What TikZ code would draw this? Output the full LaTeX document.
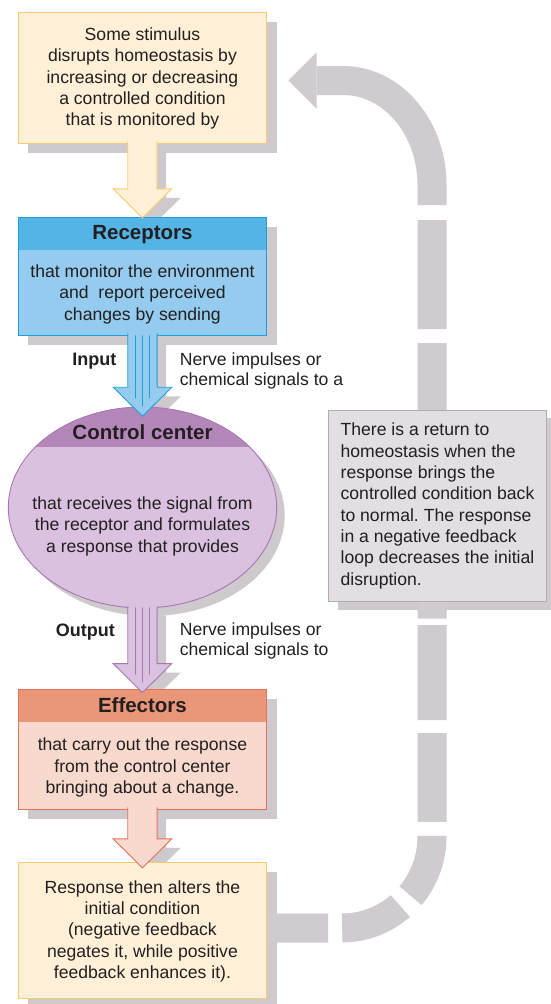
\documentclass[tikz,border=0pt]{standalone}
\usepackage{fontspec}
\setmainfont{Liberation Sans}
\usetikzlibrary{shapes.geometric,arrows.meta,positioning,calc}

\definecolor{ink}{RGB}{35,31,32}
\definecolor{shadowgray}{RGB}{206,201,205}
\definecolor{loopgray}{RGB}{208,203,207}
\definecolor{notefill}{RGB}{226,222,226}
\definecolor{noteline}{RGB}{178,172,178}
\definecolor{stimfill}{RGB}{255,240,215}
\definecolor{stimline}{RGB}{252,202,110}
\definecolor{recline}{RGB}{27,160,220}
\definecolor{rechead}{RGB}{84,180,229}
\definecolor{recfill}{RGB}{148,203,238}
\definecolor{ctrline}{RGB}{168,119,177}
\definecolor{ctrhead}{RGB}{180,135,187}
\definecolor{ctrfill}{RGB}{217,193,223}
\definecolor{effline}{RGB}{228,115,90}
\definecolor{effhead}{RGB}{234,150,121}
\definecolor{efffill}{RGB}{248,217,205}

\pgfdeclarelayer{background}
\pgfsetlayers{background,main}

% outline of a block arrow from one stage down to the next
\newcommand{\arrowpts}[3]{($(#1)+(-14.7,-2)$) -- ($(#2)+(-14.7,#3-29)$) -- ($(#2)+(-29.3,#3-29)$) -- ($(#2)+(0,#3)$) -- ($(#2)+(29.3,#3-29)$) -- ($(#2)+(14.7,#3-29)$) -- ($(#1)+(14.7,-2)$)}

\begin{document}
\begin{tikzpicture}[x=1pt,y=-1pt,
    every node/.style={text=ink},
    bodytext/.style={font=\fontsize{17.6}{21.3}\selectfont, align=center, inner sep=0pt},
    hdtext/.style={font=\fontsize{20.5}{24}\selectfont\bfseries, inner sep=0pt},
    flowtag/.style={font=\fontsize{18}{21}\selectfont\bfseries, inner sep=0pt},
    sidetext/.style={font=\fontsize{17.6}{20.5}\selectfont, align=left, inner sep=0pt},
    card/.style 2 args={draw=#1, fill=#2, line width=0.9pt, minimum width=248.5pt, inner sep=0pt},
    banded/.style 2 args={path picture={\fill[#1] (path picture bounding box.north west)
      rectangle ([yshift=-#2]path picture bounding box.north east);}},
    flowline/.style={line width=0.9pt, line join=miter},
  ]
    \useasboundingbox (0,0) rectangle (550,1004);

    % stages
    \node[card={stimline}{stimfill}, minimum height=130.7pt] (stim) at (142.45,77.65) {};
    \node[card={recline}{recfill}, banded={rechead}{32.7pt}, minimum height=117.7pt] (rec) at (142.45,276.15) {};
    \node[ellipse, draw=ctrline, fill=ctrfill, line width=0.9pt, banded={ctrhead}{39.7pt},
          minimum width=268.4pt, minimum height=201pt, inner sep=0pt] (ctr) at (142.5,507.5) {};
    \node[card={effline}{efffill}, banded={effhead}{32.4pt}, minimum height=119.7pt] (eff) at (142.45,749.15) {};
    \node[card={stimline}{stimfill}, minimum height=136pt] (resp) at (142.45,930.3) {};
    \node[draw=noteline, fill=notefill, line width=0.9pt, minimum width=218.4pt, minimum height=191.7pt,
          inner sep=0pt, align=left, font=\fontsize{17.6}{21.3}\selectfont\frenchspacing] (note) at (437.5,505.9)
      {There is a return to\\homeostasis when the\\response brings the\\controlled condition back\\to normal. The response\\in a negative feedback\\loop decreases the initial\\disruption.};
    \coordinate (looptip) at (288.3,80.5);

    % shadows and the feedback loop
    \begin{pgfonlayer}{background}
      \foreach \n in {stim,rec,eff,resp}
        \fill[shadowgray] ([xshift=10pt,yshift=-10pt]\n.north west) rectangle ([xshift=10pt,yshift=-10pt]\n.south east);
      \fill[shadowgray] ([xshift=8pt,yshift=-8pt]ctr.center) ellipse (134.2pt and 100.5pt);
      \fill[shadowgray] ([xshift=10pt,yshift=-8pt]note.north west) rectangle ([xshift=10pt,yshift=-8pt]note.south east);
      \fill[shadowgray, transform canvas={xshift=9pt,yshift=-9pt}] \arrowpts{stim.south}{rec.north}{1} -- cycle;
      \fill[shadowgray, transform canvas={xshift=9pt,yshift=-9pt}] \arrowpts{rec.south}{ctr.north}{9.7} -- cycle;
      \fill[shadowgray, transform canvas={xshift=9pt,yshift=-9pt}] \arrowpts{ctr.south}{eff.north}{3.7} -- cycle;
      \fill[shadowgray, transform canvas={xshift=9pt,yshift=-9pt}] \arrowpts{eff.south}{resp.north}{6} -- cycle;

      \draw[loopgray, line width=29pt,
            dash pattern=on 61pt off 14pt on 63.5pt off 14.6pt on 64.8pt off 14pt on 88.7pt off 13pt
              on 95pt off 6.7pt on 275.3pt off 14pt on 109pt off 15pt on 2000pt off 1pt,
            -{Triangle[width=56.7pt,length=28.4pt,line width=0pt]}]
        ([yshift=2.3pt]resp.east) -- (341.7,928)
        .. controls (392.1,928) and (432,886.3) .. (432,836.7)
        -- (432,185)
        .. controls (432,127.3) and (392.2,80.5) .. (343,80.5)
        -- (looptip);
    \end{pgfonlayer}

    % block arrows between the stages
    \fill[stimfill] \arrowpts{stim.south}{rec.north}{1} -- cycle;
    \draw[stimline, flowline] \arrowpts{stim.south}{rec.north}{1};
    \fill[recfill] \arrowpts{rec.south}{ctr.north}{9.7} -- cycle;
    \draw[recline, flowline] \arrowpts{rec.south}{ctr.north}{9.7};
    \foreach \dx/\dy in {-7/11,0/19,7/11}
      \draw[recline, line width=0.9pt] ($(rec.south)+(\dx,0)$) -- ($(ctr.north)+(\dx,9.7-29+\dy)$);
    \fill[ctrfill] \arrowpts{ctr.south}{eff.north}{3.7} -- cycle;
    \draw[ctrline, flowline] \arrowpts{ctr.south}{eff.north}{3.7};
    \foreach \dx/\dy in {-7/11,0/19,7/11}
      \draw[ctrline, line width=0.9pt] ($(ctr.south)+(\dx,-1)$) -- ($(eff.north)+(\dx,3.7-29+\dy)$);
    \fill[efffill] \arrowpts{eff.south}{resp.north}{6} -- cycle;
    \draw[effline, flowline] \arrowpts{eff.south}{resp.north}{6};

    % texts
    \node[bodytext] (stimtxt) at (142.45,78.5) {Some stimulus\\disrupts homeostasis by\\increasing or decreasing\\a controlled condition\\that is monitored by};
    \node[hdtext] (rechd) at (142.45,234.8) {Receptors};
    \node[bodytext] (rectxt) at (142.45,294.2) {that monitor the environment\\and\ \ report perceived\\changes by sending};
    \node[flowtag, anchor=base east] (inlbl) at (116.5,365.7) {Input};
    \node[sidetext, anchor=west] (insig) at (179.6,371) {Nerve impulses or\\chemical signals to a};
    \node[hdtext] (ctrhd) at (142.5,431.8) {Control center};
    \node[bodytext] (ctrtxt) at (142.5,526.2) {that receives the signal from\\the receptor and formulates\\a response that provides};
    \node[flowtag, anchor=base east] (outlbl) at (115,636) {Output};
    \node[sidetext, anchor=west] (outsig) at (179.6,640.9) {Nerve impulses or\\chemical signals to};
    \node[hdtext] (effhd) at (142.45,705.2) {Effectors};
    \node[bodytext] (efftxt) at (142.45,767.5) {that carry out the response\\from the control center\\bringing about a change.};
    \node[bodytext] (resptxt) at (142.45,931.3) {Response then alters the\\initial condition\\(negative feedback\\negates it, while positive\\feedback enhances it).};
\end{tikzpicture}
\end{document}
